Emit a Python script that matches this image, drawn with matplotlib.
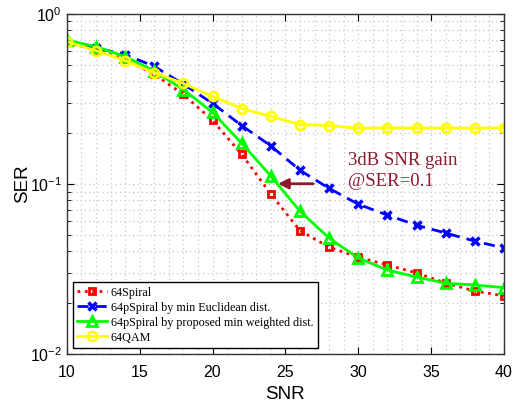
import numpy as np
import matplotlib
matplotlib.use('Agg')
import matplotlib.pyplot as plt
from matplotlib.ticker import MultipleLocator, LogLocator, NullFormatter

# SNR points
snr = [10, 12, 14, 16, 18, 20, 22, 24, 26, 28, 30, 32, 34, 36, 38, 40]

# SER curves
ser_spiral = [0.68, 0.61, 0.54, 0.44, 0.335, 0.236, 0.149, 0.087, 0.053, 0.0424,
              0.037, 0.0333, 0.0299, 0.0261, 0.0234, 0.0219]
ser_euclid = [0.68, 0.63, 0.575, 0.49, 0.385, 0.297, 0.22, 0.167, 0.12, 0.094,
              0.0758, 0.0654, 0.0571, 0.0513, 0.046, 0.0419]
ser_weighted = [0.70, 0.64, 0.56, 0.46, 0.358, 0.263, 0.173, 0.111, 0.069, 0.0479,
                0.0366, 0.0311, 0.0283, 0.026, 0.0254, 0.0245]
ser_qam = [0.685, 0.607, 0.53, 0.45, 0.389, 0.326, 0.277, 0.249, 0.223, 0.22,
           0.212, 0.213, 0.213, 0.213, 0.212, 0.214]

labels = ['64Spiral', '64pSpiral by min Euclidean dist.',
          '64pSpiral by proposed min weighted dist.', '64QAM']

plt.rcParams['font.family'] = ['Liberation Sans', 'DejaVu Sans']

fig = plt.figure(figsize=(5.18, 4.03), dpi=100)
ax = fig.add_axes([0.129, 0.122, 0.844, 0.844])

ax.plot(snr, ser_spiral, ':', color='#FF0000', lw=2, marker='s', ms=5,
        mfc='none', mew=2, label=labels[0])
ax.plot(snr, ser_euclid, '--', color='#0000FF', lw=2, marker='x', ms=6,
        mew=2.5, label=labels[1], dashes=(4, 2.5))
ax.plot(snr, ser_weighted, '-', color='#00FF00', lw=2, marker='^', ms=7,
        mfc='none', mew=2, label=labels[2])
ax.plot(snr, ser_qam, '-', color='#FFFF00', lw=2, marker='o', ms=6.5,
        mfc='none', mew=2, label=labels[3])

ax.set_yscale('log')
ax.set_xlim(10, 40)
ax.set_ylim(1e-2, 1)
ax.xaxis.set_major_locator(MultipleLocator(5))
ax.xaxis.set_minor_locator(MultipleLocator(1))
ax.yaxis.set_major_locator(LogLocator(base=10, numticks=10))
ax.yaxis.set_minor_locator(LogLocator(base=10, subs=np.arange(2, 10), numticks=10))
ax.yaxis.set_minor_formatter(NullFormatter())

ax.grid(True, which='both', linestyle=(0, (1, 2.5)), color='#C8C8C8', lw=0.9)
ax.tick_params(which='both', direction='in', top=True, right=True, labelsize=11.5)
ax.tick_params(axis='x', which='minor', length=0)
ax.tick_params(which='major', length=5)
ax.tick_params(axis='x', which='major', pad=8)
ax.tick_params(axis='y', which='minor', length=3)
for s in ax.spines.values():
    s.set_color('#333333')
    s.set_linewidth(1)

ax.set_xlabel('SNR', fontsize=13.5, labelpad=4)
ax.set_ylabel('SER', fontsize=13.5, labelpad=-1)

ax.annotate('', xy=(24.3, 0.1), xytext=(27.1, 0.1),
            arrowprops=dict(arrowstyle='-|>', color='#8B1A2E', lw=2, mutation_scale=15))
ax.text(29.3, 0.119, '3dB SNR gain\n@SER=0.1', color='#8B1A2E', fontsize=13.5,
        family=['Liberation Serif', 'DejaVu Serif'], va='center', ha='left',
        linespacing=1.25)

leg = ax.legend(loc='lower left', prop={'family': 'Liberation Serif', 'size': 8.7},
                fancybox=False, edgecolor='black', framealpha=1, borderpad=0.35,
                labelspacing=0.25, handlelength=2.5, handletextpad=0.3,
                borderaxespad=0.5)
leg.get_frame().set_linewidth(1)

fig.savefig('out.png', dpi=100)
